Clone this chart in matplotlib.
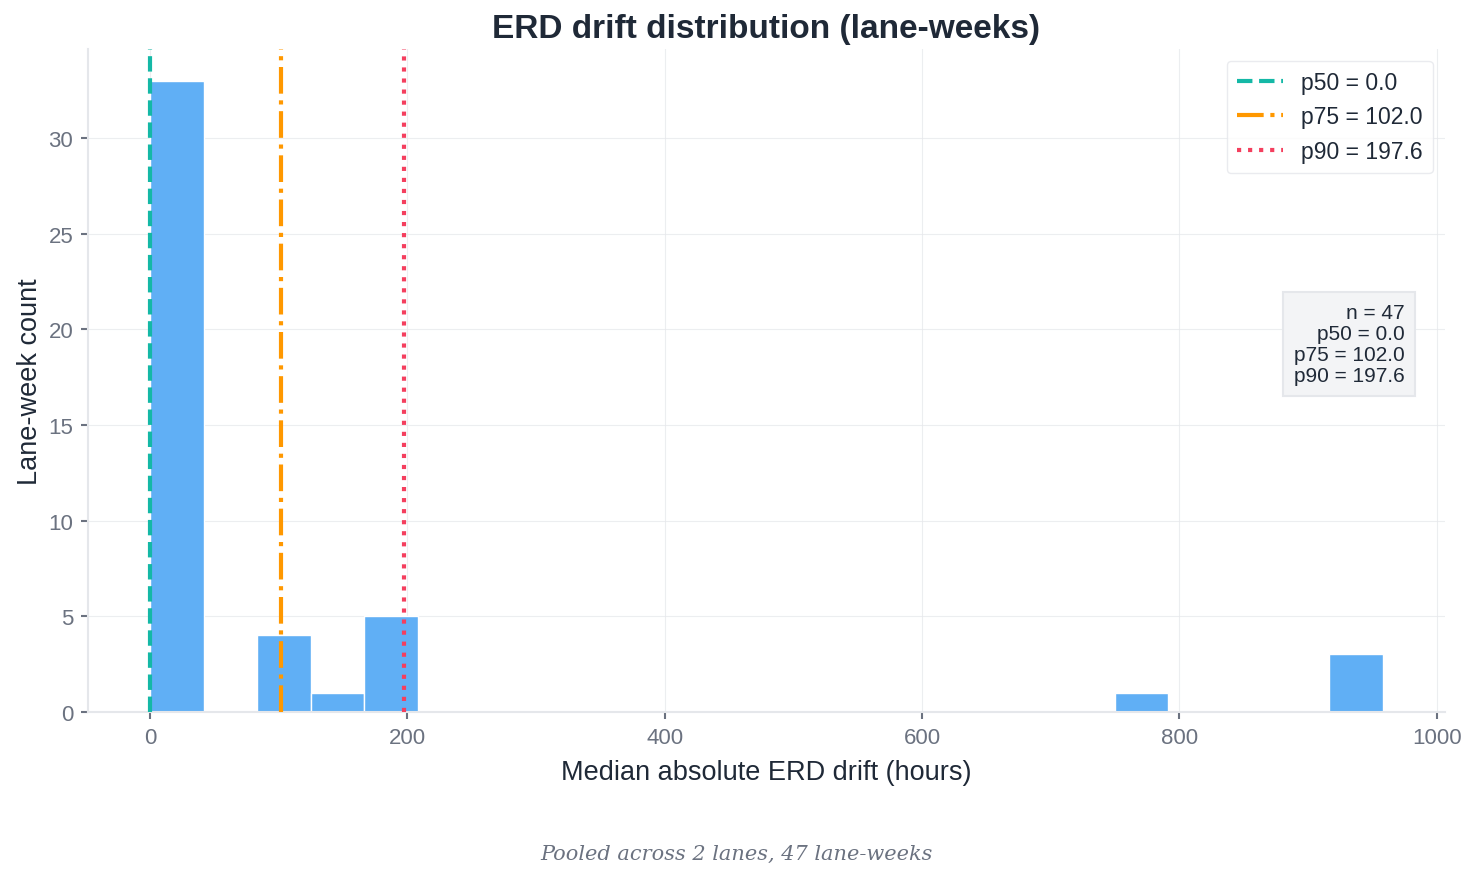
import numpy as np
import matplotlib.pyplot as plt

# histogram of lane-week drift (hours), 23 bins from 0 to ~958
bin_edges = np.linspace(0, 958, 24)
counts = [33, 0, 4, 1, 5, 0, 0, 0, 0, 0, 0, 0, 0, 0, 0, 0, 0, 0, 1, 0, 0, 0, 3]

pct_names = ["p50", "p75", "p90"]
pct_values = [0.0, 102.0, 197.6]
pct_colors = ["#14b8a6", "#ff9800", "#f43f5e"]
pct_styles = ["--", "-.", ":"]
n_total = 47

plt.rcParams['font.family'] = ['Liberation Sans', 'DejaVu Sans']
text_col = "#1f2937"
tick_col = "#6b7280"

fig = plt.figure(figsize=(14.74, 8.79), dpi=100)
ax = fig.add_axes([0.060, 0.189, 0.920, 0.754])

widths = np.diff(bin_edges)
ax.bar(bin_edges[:-1], counts, width=widths, align="edge",
       color="#60aff5", edgecolor="white", linewidth=1, zorder=2)

for name, val, c, ls in zip(pct_names, pct_values, pct_colors, pct_styles):
    ax.axvline(val, color=c, linestyle=ls, linewidth=3,
               label=f"{name} = {val:.1f}", zorder=3)

ax.set_xlim(-47.9, 1006)
ax.set_ylim(0, 34.65)
ax.set_yticks([0, 5, 10, 15, 20, 25, 30])
ax.set_xticks([0, 200, 400, 600, 800, 1000])

ax.grid(True, color="#e5e7eb", linewidth=0.8, alpha=0.7, zorder=0)
ax.set_axisbelow(True)
for s in ["top", "right"]:
    ax.spines[s].set_visible(False)
for s in ["left", "bottom"]:
    ax.spines[s].set_color("#e5e7eb")
    ax.spines[s].set_linewidth(1.5)
ax.tick_params(colors=tick_col, labelsize=16, length=5, width=1.5, pad=6)

ax.set_title("ERD drift distribution (lane-weeks)", fontsize=24,
             fontweight="bold", color=text_col, pad=9)
ax.set_xlabel("Median absolute ERD drift (hours)", fontsize=19.5,
              color=text_col, labelpad=8)
ax.set_ylabel("Lane-week count", fontsize=19.5, color=text_col, labelpad=4)

leg = ax.legend(loc="upper right", fontsize=16.5, frameon=True,
                handlelength=2.0, borderpad=0.45, labelspacing=0.5)
leg.get_frame().set_edgecolor("#e5e7eb")
for t in leg.get_texts():
    t.set_color(text_col)

stats = f"n = {n_total}\n" + "\n".join(
    f"{nm} = {v:.1f}" for nm, v in zip(pct_names, pct_values))
ax.text(0.9705, 0.555, stats, transform=ax.transAxes, ha="right", va="center",
        fontsize=15, color=text_col, linespacing=1.15,
        bbox=dict(boxstyle="square,pad=0.5", facecolor="#f3f4f6",
                  edgecolor="#e5e7eb", linewidth=1.5))

fig.text(0.5, 0.022, "Pooled across 2 lanes, 47 lane-weeks", ha="center",
         fontsize=15, style="italic", color=tick_col, family="DejaVu Serif")

fig.savefig("out.png", dpi=100)
